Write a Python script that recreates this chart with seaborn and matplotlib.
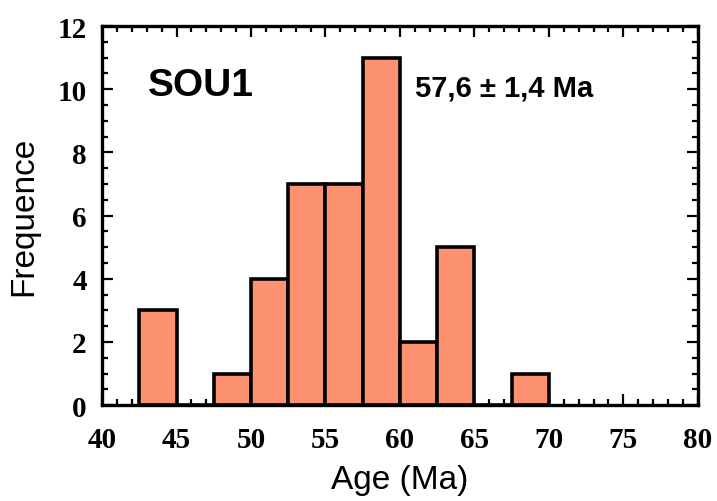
import matplotlib
matplotlib.use("Agg")
import matplotlib.pyplot as plt
import seaborn as sns
from matplotlib.ticker import MultipleLocator

# bins of 2.5 Ma
bin_edges = [42.5, 45, 47.5, 50, 52.5, 55, 57.5, 60, 62.5, 65, 67.5, 70]
counts = [3, 0, 1, 4, 7, 7, 11, 2, 5, 0, 1]
x_ticks = [40, 45, 50, 55, 60, 65, 70, 75, 80]
y_ticks = [0, 2, 4, 6, 8, 10, 12]

sample_name = "SOU1"
age_text = "57,6 ± 1,4 Ma"
bar_color = "#FD9272"


def main():
    sns.set_style("ticks", {"axes.edgecolor": "black", "text.color": "black",
                            "axes.labelcolor": "black", "xtick.color": "black",
                            "ytick.color": "black"})
    centers = [(a + b) / 2 for a, b in zip(bin_edges[:-1], bin_edges[1:])]

    fig = plt.figure(figsize=(7.17, 5.02), dpi=100)
    ax = fig.add_axes([0.1423, 0.191, 0.831, 0.755])

    sns.histplot(x=centers, weights=counts, bins=bin_edges, ax=ax,
                 color=bar_color, alpha=1, edgecolor="black", linewidth=2.6)

    ax.set_xlim(40, 80)
    ax.set_ylim(0, 12)
    ax.set_xticks(x_ticks)
    ax.set_yticks(y_ticks)
    ax.xaxis.set_minor_locator(MultipleLocator(1))
    ax.yaxis.set_minor_locator(MultipleLocator(0.5))
    ax.tick_params(which="both", direction="in", top=True, right=True, width=1.6)
    ax.tick_params(which="major", length=8)
    ax.tick_params(which="minor", length=4)
    ax.tick_params(axis="x", which="major", pad=15)
    ax.tick_params(axis="y", which="major", pad=11)
    for lab in ax.get_xticklabels() + ax.get_yticklabels():
        lab.set_family("Liberation Serif")
        lab.set_weight("bold")
        lab.set_fontsize(21)
    for sp in ax.spines.values():
        sp.set_linewidth(2.4)
        sp.set_visible(True)

    ax.set_xlabel("Age (Ma)", family="Liberation Sans", fontsize=24, labelpad=8)
    ax.set_ylabel("Frequence", family="Liberation Sans", fontsize=24, labelpad=13)

    ax.text(0.077, 0.845, sample_name, transform=ax.transAxes, family="Liberation Sans",
            fontsize=28, weight="bold", va="center")
    ax.text(0.525, 0.838, age_text, transform=ax.transAxes, family="Liberation Sans",
            fontsize=21, weight="bold", va="center")

    fig.savefig("out.png", dpi=100)


if __name__ == "__main__":
    main()
